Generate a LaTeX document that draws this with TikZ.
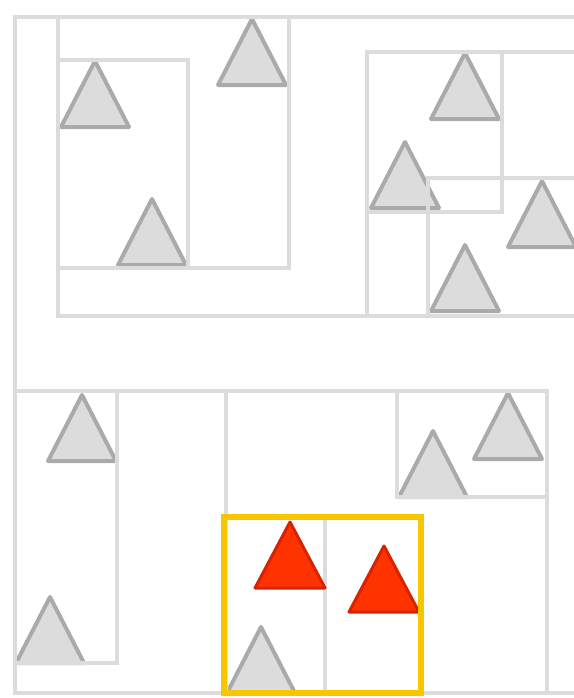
\documentclass[tikz,border=0pt]{standalone}
\definecolor{boxgray}{HTML}{DCDCDC}
\definecolor{itemedge}{HTML}{AAAAAA}
\definecolor{itemfill}{HTML}{DCDCDC}
\definecolor{hitfill}{HTML}{FF3300}
\definecolor{hitedge}{HTML}{D92200}
\definecolor{queryyellow}{HTML}{F7C600}
\begin{document}
\begin{tikzpicture}[x=0.02cm,y=-0.02cm,
  mbr/.style={draw=boxgray,line width=0.085cm},
  item/.style={draw=itemedge,fill=itemfill,line width=0.08cm,line join=round},
  hit/.style={draw=hitedge,fill=hitfill,line width=0.06cm,line join=round},
  query/.style={draw=queryyellow,line width=0.11cm}]
\useasboundingbox (0,0) rectangle (574,698);
\clip (0,0) rectangle (574,698);
% data items (base centre / base line)
\foreach \cx/\by in {95/127,252/85,152/265,465/119,405/208,542/247,465/311,
                     82/461,50/663,261/693,433/497,508/459}
  \draw[item] (\cx-34,\by) -- (\cx,\by-66) -- (\cx+34,\by) -- cycle;
% bounding rectangles
\draw[mbr] (15,17) rectangle (590,693);
\draw[mbr] (58,17) rectangle (590,316);
\draw[mbr] (58,17) rectangle (289,268);
\draw[mbr] (58,60) rectangle (188,268);
\draw[mbr] (367,52) rectangle (590,316);
\draw[mbr] (367,52) rectangle (502,212);
\draw[mbr] (428,178) rectangle (590,316);
\draw[mbr] (15,391) rectangle (547,693);
\draw[mbr] (15,391) rectangle (117,663);
\draw[mbr] (226,391) rectangle (547,693);
\draw[mbr] (397,391) rectangle (547,497);
\draw[mbr] (224,517) rectangle (325,693);
% query result
\foreach \cx/\by in {290/588,384/612}
  \draw[hit] (\cx-35,\by) -- (\cx,\by-66) -- (\cx+35,\by) -- cycle;
\draw[query] (224,517) rectangle (421,693);
\end{tikzpicture}
\end{document}
